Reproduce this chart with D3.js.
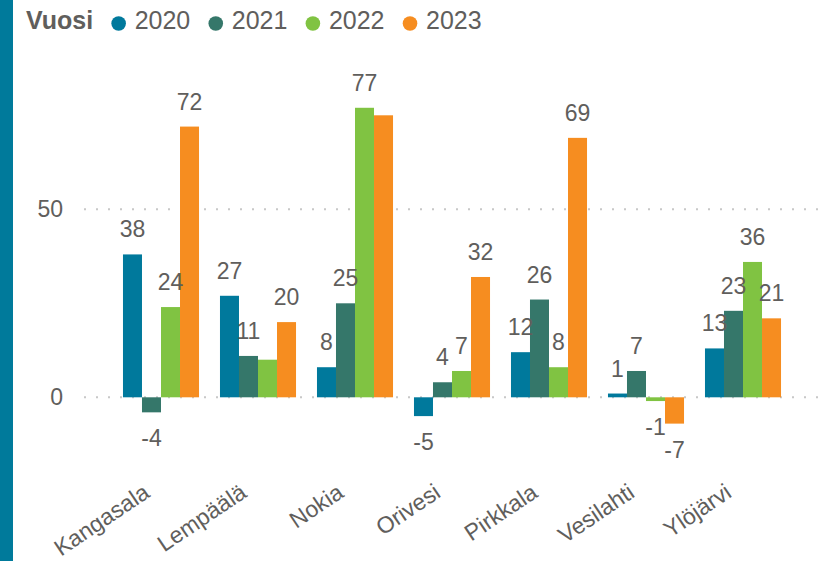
<!DOCTYPE html>
<html>
<head>
<meta charset="utf-8">
<script src="https://cdn.jsdelivr.net/npm/d3@7"></script>
<style>
  body { margin: 0; background: #fff; }
  svg { display: block; font-family: "Liberation Sans", Arial, sans-serif; }
</style>
</head>
<body>
<div id="chart"></div>
<script>
// datos
var kunnat = ["Kangasala", "Lempäälä", "Nokia", "Orivesi", "Pirkkala", "Vesilahti", "Ylöjärvi"];
var vuodet = ["2020", "2021", "2022", "2023"];
var v2020 = [38, 27, 8, -5, 12, 1, 13];
var v2021 = [-4, 11, 25, 4, 26, 7, 23];
var v2022 = [24, 10, 77, 7, 8, -1, 36];
var v2023 = [72, 20, 75, 32, 69, -7, 21];
var yTicks = [0, 50];
// labels that the original chart leaves out
var piilotetut = [["Lempäälä", "2022"], ["Nokia", "2023"]];

var varit = ["#00799c", "#35776a", "#80c342", "#f68d20"];
var sarjat = [v2020, v2021, v2022, v2023];

var w = 827;
var h = 561;
var teksti = "#605e5c";

var svg = d3.select("#chart")
    .append("svg")
    .attr("width", w)
    .attr("height", h);

// sininen palkki vasemmalla
svg.append("rect")
    .attr("x", 0)
    .attr("y", 0)
    .attr("width", 13)
    .attr("height", h)
    .attr("fill", "#007a9b");

var x = d3.scaleBand()
    .domain(kunnat)
    .range([112.5, 791.5])
    .paddingInner(0.216)
    .paddingOuter(0.108);

var x1 = d3.scaleBand()
    .domain(vuodet)
    .range([0, x.bandwidth()]);

var y = d3.scaleLinear()
    .domain([-15, 85])
    .range([453.7, 77.7]);

var vari = d3.scaleOrdinal().domain(vuodet).range(varit);

// ruudukko
svg.selectAll("line.grid")
    .data(yTicks)
    .enter()
    .append("line")
    .attr("class", "grid")
    .attr("x1", 84)
    .attr("x2", 820)
    .attr("y1", function(d) { return y(d); })
    .attr("y2", function(d) { return y(d); })
    .attr("stroke", "#c8c8c8")
    .attr("stroke-width", 2)
    .attr("stroke-dasharray", "2,10");

// y-akseli
var yAxis = d3.axisLeft(y).tickValues(yTicks).tickSize(0).tickPadding(0);
var ga = svg.append("g")
    .attr("transform", "translate(63,0)")
    .call(yAxis);
ga.select(".domain").remove();
ga.selectAll("text")
    .attr("fill", teksti)
    .attr("font-size", "23px")
    .attr("font-family", "Liberation Sans, Arial, sans-serif");

var rivit = [];
kunnat.forEach(function(k, i) {
    vuodet.forEach(function(v, j) {
        rivit.push({ kunta: k, vuosi: v, arvo: sarjat[j][i] });
    });
});

var ryhmat = svg.selectAll("g.kunta")
    .data(kunnat)
    .enter()
    .append("g")
    .attr("class", "kunta")
    .attr("transform", function(d) { return "translate(" + x(d) + ",0)"; });

ryhmat.selectAll("rect")
    .data(function(k) { return rivit.filter(function(r) { return r.kunta == k; }); })
    .enter()
    .append("rect")
    .attr("x", function(d) { return x1(d.vuosi); })
    .attr("width", x1.bandwidth())
    .attr("y", function(d) { return y(Math.max(0, d.arvo)); })
    .attr("height", function(d) { return Math.abs(y(d.arvo) - y(0)); })
    .attr("fill", function(d) { return vari(d.vuosi); });

function piilossa(d) {
    return piilotetut.some(function(p) { return p[0] == d.kunta && p[1] == d.vuosi; });
}

ryhmat.selectAll("text")
    .data(function(k) { return rivit.filter(function(r) { return r.kunta == k && !piilossa(r); }); })
    .enter()
    .append("text")
    .text(function(d) { return d.arvo; })
    .attr("x", function(d) { return x1(d.vuosi) + x1.bandwidth() / 2; })
    .attr("y", function(d) { return d.arvo >= 0 ? y(d.arvo) - 17 : y(d.arvo) + 34; })
    .attr("text-anchor", "middle")
    .attr("font-size", "23px")
    .attr("fill", teksti);

// x-akselin nimet
svg.selectAll("text.kat")
    .data(kunnat)
    .enter()
    .append("text")
    .attr("class", "kat")
    .text(function(d) { return d; })
    .attr("text-anchor", "end")
    .attr("font-size", "23px")
    .attr("fill", teksti)
    .attr("transform", function(d) {
        return "translate(" + (x(d) + x.bandwidth() / 2 - 10) + ",496) rotate(-34)";
    });

// selite
var leg = svg.append("g");
var otsikko = leg.append("text")
    .text("Vuosi")
    .attr("x", 26)
    .attr("y", 29)
    .attr("font-size", "25px")
    .attr("font-weight", "bold")
    .attr("fill", teksti);
var loppu = 26 + otsikko.node().getComputedTextLength();
vuodet.forEach(function(v) {
    var cx = loppu + 25.5;
    leg.append("circle")
        .attr("cx", cx)
        .attr("cy", 23.5)
        .attr("r", 7.3)
        .attr("fill", vari(v));
    var t = leg.append("text")
        .text(v)
        .attr("x", cx + 16)
        .attr("y", 29)
        .attr("font-size", "25px")
        .attr("fill", teksti);
    loppu = cx + 16 + t.node().getComputedTextLength();
});
</script>
</body>
</html>
